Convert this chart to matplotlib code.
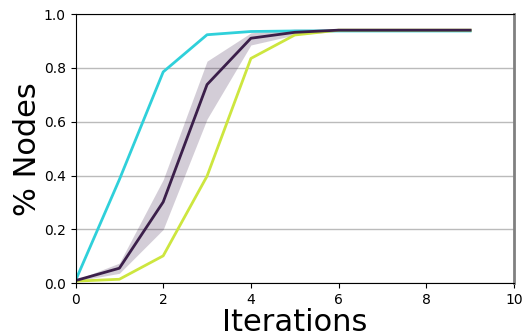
import matplotlib
matplotlib.use("Agg")
import matplotlib.pyplot as plt
import numpy as np

iterations = [0, 1, 2, 3, 4, 5, 6, 7, 8, 9]

fast_series = [0.01, 0.385, 0.785, 0.923, 0.935, 0.937, 0.937, 0.937, 0.937, 0.937]
mean_series = [0.01, 0.056, 0.302, 0.738, 0.91, 0.932, 0.94, 0.94, 0.94, 0.94]
mean_lower = [0.008, 0.037, 0.20, 0.61, 0.885, 0.922, 0.936, 0.936, 0.936, 0.936]
mean_upper = [0.012, 0.075, 0.385, 0.825, 0.93, 0.944, 0.945, 0.945, 0.945, 0.945]
slow_series = [0.008, 0.015, 0.102, 0.398, 0.835, 0.922, 0.94, 0.94, 0.94, 0.94]

x_ticks = [0, 2, 4, 6, 8, 10]
y_ticks = [0.0, 0.2, 0.4, 0.6, 0.8, 1.0]

fig = plt.figure(figsize=(5.22, 3.36), dpi=100)
ax = fig.add_axes([75.5 / 522, (336 - 283.3) / 336, (514 - 75.5) / 522, (283.3 - 14) / 336])

ax.fill_between(iterations, mean_lower, mean_upper, color="#3b1f4a", alpha=0.22, linewidth=0)
ax.plot(iterations, fast_series, color="#2fd0da", linewidth=2)
ax.plot(iterations, slow_series, color="#cde63f", linewidth=2)
ax.plot(iterations, mean_series, color="#3b1f4a", linewidth=2)

ax.set_xlim(0, 10)
ax.set_ylim(0, 1.0)
ax.set_xticks(x_ticks)
ax.set_yticks(y_ticks)
ax.set_yticklabels([f"{v:.1f}" for v in y_ticks])
ax.tick_params(labelsize=10)
ax.yaxis.grid(True, color="#bbbbbb", linewidth=1)
ax.set_axisbelow(True)
ax.spines["right"].set_color("#808080")
ax.spines["right"].set_linewidth(2)

ax.set_xlabel("Iterations", fontsize=22, labelpad=1)
ax.set_ylabel("% Nodes", fontsize=22, labelpad=1)

fig.savefig("out.png", dpi=100)
